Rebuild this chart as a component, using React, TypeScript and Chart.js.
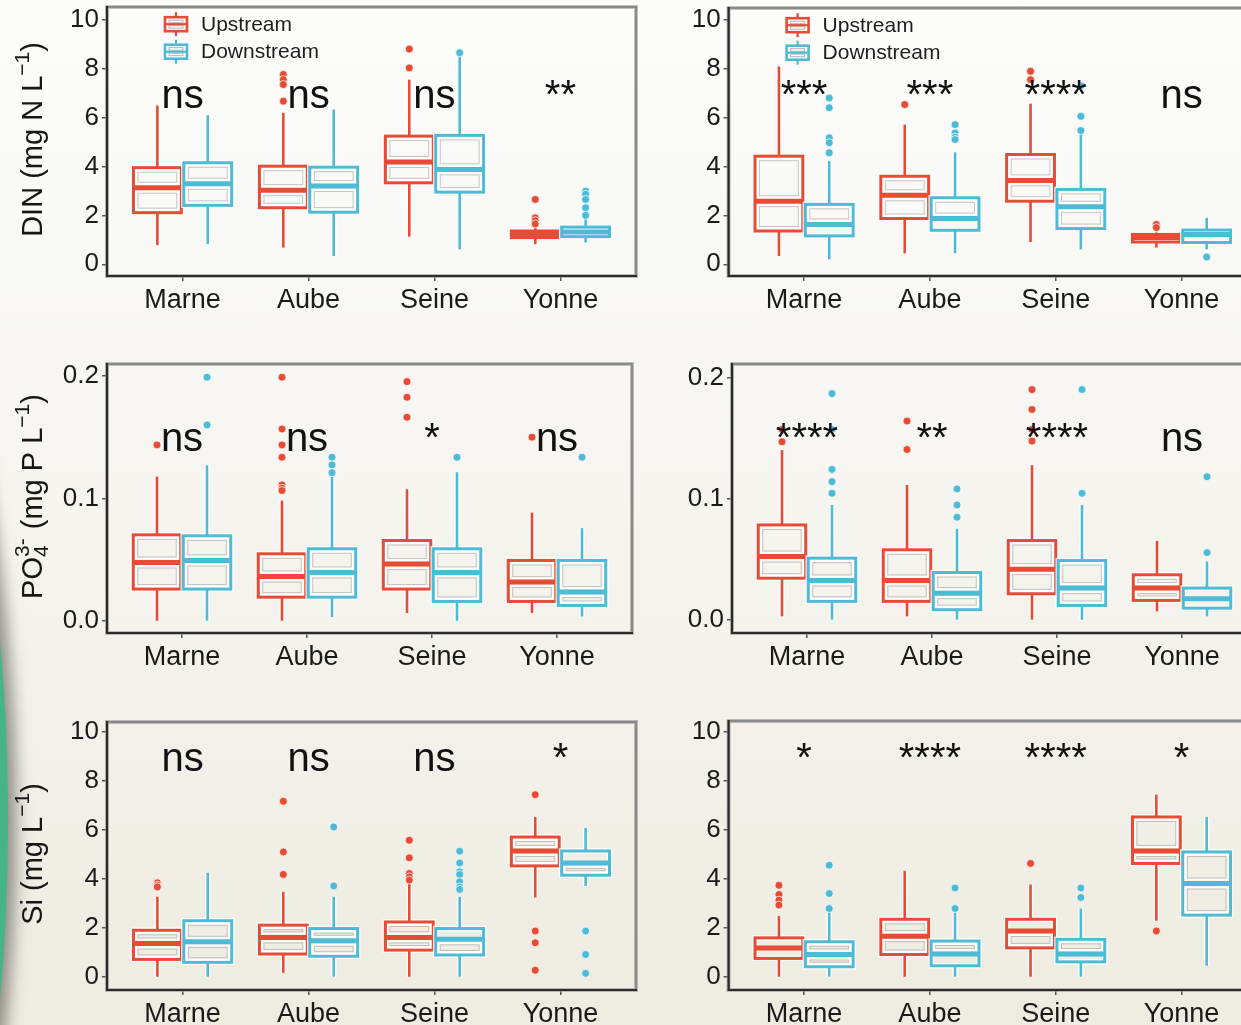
import React, { useEffect, useRef } from "react";
import { Chart, registerables } from "chart.js";
Chart.register(...registerables);

const FONT = "'Liberation Sans', Arial, Helvetica, sans-serif";

const categories = ["Marne", "Aube", "Seine", "Yonne"];
const seriesNames = ["Upstream", "Downstream"];
const upColor = "#E64B35";
const downColor = "#4DBBD5";

const dinTicks = [0, 2, 4, 6, 8, 10];
const poTicks = [0, 0.1, 0.2];
const siTicks = [0, 2, 4, 6, 8, 10];

// each entry: [lower whisker, Q1, median, Q3, upper whisker]
const dinUpA = [[0.78, 2.11, 3.13, 3.95, 6.49], [0.68, 2.31, 3.03, 4.01, 6.19], [1.13, 3.33, 4.18, 5.24, 7.55], [0.82, 1.09, 1.22, 1.36, 1.5]];
const dinDownA = [[0.82, 2.41, 3.29, 4.15, 6.1], [0.34, 2.13, 3.2, 3.97, 6.33], [0.61, 2.95, 3.88, 5.27, 8.6], [0.89, 1.13, 1.32, 1.52, 1.85]];
const dinUpAOut = [[], [7.76, 7.55, 7.35, 6.67], [8.8, 8.03], [2.65, 1.9, 1.78, 1.65]];
const dinDownAOut = [[], [], [8.65], [2.99, 2.86, 2.65, 2.31, 2.0]];
const dinSigA = ["ns", "ns", "ns", "**"];

const dinUpB = [[0.34, 1.36, 2.58, 4.42, 8.09], [0.45, 1.87, 2.82, 3.6, 5.71], [0.91, 2.58, 3.43, 4.49, 6.57], [0.68, 0.91, 1.09, 1.22, 1.3]];
const dinDownB = [[0.2, 1.16, 1.63, 2.45, 4.22], [0.45, 1.39, 1.87, 2.72, 4.58], [0.61, 1.46, 2.35, 3.06, 5.35], [0.61, 0.89, 1.22, 1.4, 1.9]];
const dinUpBOut = [[], [6.53], [7.89, 7.55], [1.63, 1.5]];
const dinDownBOut = [[6.8, 6.4, 5.17, 4.97, 4.56], [5.71, 5.37, 5.2, 5.1], [7.3, 6.05, 5.47], [0.3]];
const dinSigB = ["***", "***", "****", "ns"];

const poUpC = [[0.0, 0.0259, 0.0476, 0.0702, 0.1178], [0.0, 0.0193, 0.0362, 0.0547, 0.0982], [0.0063, 0.0259, 0.0463, 0.0656, 0.1075], [0.0063, 0.0158, 0.0316, 0.0493, 0.0884]];
const poDownC = [[0.0, 0.0259, 0.0493, 0.0694, 0.127], [0.003, 0.0193, 0.0395, 0.0588, 0.118], [0.0, 0.0158, 0.0395, 0.0588, 0.1214], [0.0035, 0.0125, 0.0234, 0.0493, 0.0757]];
const poUpCOut = [[0.1437], [0.199, 0.1567, 0.1437, 0.1336, 0.111, 0.1083, 0.1064], [0.1954, 0.1826, 0.1663], [0.15]];
const poDownCOut = [[0.199, 0.16], [0.1336, 0.1273, 0.121], [0.1336], [0.1336]];
const poSigC = ["ns", "ns", "*", "ns"];

const poUpD = [[0.0028, 0.0344, 0.0523, 0.0785, 0.1405], [0.0028, 0.0152, 0.0325, 0.0579, 0.1116], [0.0, 0.0215, 0.0419, 0.0656, 0.128], [0.0069, 0.016, 0.0262, 0.0372, 0.0653]];
const poDownD = [[0.0, 0.0152, 0.0325, 0.051, 0.095], [0.0, 0.0083, 0.022, 0.0391, 0.0752], [0.0, 0.0118, 0.0262, 0.049, 0.095], [0.0028, 0.0096, 0.0174, 0.0262, 0.0482]];
const poUpDOut = [[0.1576, 0.1474], [0.1645, 0.141], [0.1906, 0.1741, 0.1576, 0.148], []];
const poDownDOut = [[0.1873, 0.1576, 0.1245, 0.1143, 0.1047], [0.1083, 0.095, 0.0849], [0.1906, 0.1047], [0.1185, 0.0556]];
const poSigD = ["****", "**", "****", "ns"];

const siUpE = [[0, 0.71, 1.36, 1.9, 3.27], [0.16, 0.93, 1.61, 2.11, 3.47], [0, 1.09, 1.61, 2.24, 3.81], [3.24, 4.53, 5.14, 5.71, 6.53]];
const siDownE = [[0, 0.59, 1.43, 2.29, 4.25], [0, 0.84, 1.47, 1.97, 3.27], [0, 0.89, 1.53, 1.97, 3.27], [3.71, 4.15, 4.65, 5.14, 6.08]];
const siUpEOut = [[3.84, 3.74, 3.67], [7.17, 5.1, 4.18], [5.58, 4.86, 4.22, 4.08, 3.95], [7.44, 1.87, 1.39, 0.27]];
const siDownEOut = [[], [6.12, 3.71], [5.13, 4.65, 4.29, 4.18, 3.88, 3.67, 3.57], [1.87, 0.91, 0.14]];
const siSigE = ["ns", "ns", "ns", "*"];

const siUpF = [[0, 0.75, 1.18, 1.59, 2.48], [0, 0.91, 1.66, 2.35, 4.33], [0, 1.18, 1.87, 2.35, 3.77], [2.29, 4.63, 5.14, 6.53, 7.44]];
const siDownF = [[0, 0.41, 0.91, 1.43, 2.63], [0, 0.45, 0.93, 1.46, 2.63], [0, 0.61, 0.93, 1.53, 2.79], [0.45, 2.52, 3.81, 5.1, 6.53]];
const siUpFOut = [[3.74, 3.36, 3.13, 2.93], [], [4.63], [1.87]];
const siDownFOut = [[4.56, 3.4, 2.79], [3.63, 2.79], [3.63, 3.24], []];
const siSigF = ["*", "****", "****", "*"];

const dinTitle = [{ t: "DIN (mg N L" }, { t: "\u22121", sup: true }, { t: ")" }];
const poTitle = [{ t: "PO" }, { stackSup: "3-", stackSub: "4" }, { t: " (mg P L" }, { t: "\u22121", sup: true }, { t: ")" }];
const siTitle = [{ t: "Si (mg L" }, { t: "\u22121", sup: true }, { t: ")" }];

const PAD_TOP = 26;
const PAD_RIGHT = 16;
const XAXIS_H = 52;
const BOX_HALF = 0.19;
const DODGE = 0.2;

type Cfg = any;

const panels: Cfg[] = [
  { id: "A", area: { L: 107, T: 7.3, R: 636, B: 276.7 }, x0: 0, yMin: -0.48, yMax: 10.52, ticks: dinTicks, dec: 0, up: dinUpA, down: dinDownA, upOut: dinUpAOut, downOut: dinDownAOut, sig: dinSigA, sigY: 6.41, legend: true, title: dinTitle },
  { id: "B", area: { L: 728.6, T: 8.3, R: 1256.5, B: 276.7 }, x0: 628, yMin: -0.48, yMax: 10.48, ticks: dinTicks, dec: 0, up: dinUpB, down: dinDownB, upOut: dinUpBOut, downOut: dinDownBOut, sig: dinSigB, sigY: 6.41, legend: true },
  { id: "C", area: { L: 107, T: 364, R: 632, B: 633.3 }, x0: 0, yMin: -0.01, yMax: 0.2098, ticks: poTicks, dec: 1, up: poUpC, down: poDownC, upOut: poUpCOut, downOut: poDownCOut, sig: poSigC, sigY: 0.139, title: poTitle },
  { id: "D", area: { L: 732, T: 364, R: 1257, B: 633.3 }, x0: 632, yMin: -0.011, yMax: 0.2118, ticks: poTicks, dec: 1, up: poUpD, down: poDownD, upOut: poUpDOut, downOut: poDownDOut, sig: poSigD, sigY: 0.14 },
  { id: "E", area: { L: 107, T: 721.7, R: 636, B: 990 }, x0: 0, yMin: -0.54, yMax: 10.41, ticks: siTicks, dec: 0, up: siUpE, down: siDownE, upOut: siUpEOut, downOut: siDownEOut, sig: siSigE, sigY: 8.4, title: siTitle },
  { id: "F", area: { L: 728.6, T: 720.7, R: 1256.5, B: 990 }, x0: 628, yMin: -0.54, yMax: 10.45, ticks: siTicks, dec: 0, up: siUpF, down: siDownF, upOut: siUpFOut, downOut: siDownFOut, sig: siSigF, sigY: 8.4 },
];

function line(ctx: CanvasRenderingContext2D, x1: number, y1: number, x2: number, y2: number) {
  ctx.beginPath();
  ctx.moveTo(x1, y1);
  ctx.lineTo(x2, y2);
  ctx.stroke();
}

function drawBox(ctx: CanvasRenderingContext2D, x1: number, x2: number, yLo: number, yQ1: number, yMd: number, yQ3: number, yHi: number, color: string) {
  const xc = (x1 + x2) / 2;
  ctx.save();
  ctx.lineCap = "butt";
  ctx.strokeStyle = "rgba(255,255,255,0.85)";
  ctx.lineWidth = 5.5;
  line(ctx, xc, yHi, xc, yQ3);
  line(ctx, xc, yQ1, xc, yLo);
  ctx.strokeRect(x1, yQ3, x2 - x1, yQ1 - yQ3);
  ctx.strokeStyle = color;
  ctx.lineWidth = 2.6;
  line(ctx, xc, yHi, xc, yQ3);
  line(ctx, xc, yQ1, xc, yLo);
  ctx.lineWidth = 3;
  ctx.strokeRect(x1, yQ3, x2 - x1, yQ1 - yQ3);
  const inset = 4.5;
  const inner = (ya: number, yb: number) => {
    if (yb - ya > 2 && x2 - x1 > 2 * inset + 2) {
      ctx.strokeStyle = "rgba(255,255,255,0.9)";
      ctx.lineWidth = 2;
      ctx.strokeRect(x1 + inset - 1.5, ya - 1.5, x2 - x1 - 2 * inset + 3, yb - ya + 3);
      ctx.strokeStyle = "rgba(130,130,130,0.45)";
      ctx.lineWidth = 1;
      ctx.strokeRect(x1 + inset, ya, x2 - x1 - 2 * inset, yb - ya);
    }
  };
  inner(yQ3 + inset, yMd - inset - 1);
  inner(yMd + inset + 1, yQ1 - inset);
  ctx.strokeStyle = color;
  ctx.lineWidth = 5;
  line(ctx, x1, yMd, x2, yMd);
  ctx.restore();
}

function drawTitle(ctx: CanvasRenderingContext2D, parts: any[], xBase: number, cy: number, size: number) {
  const big = `${size}px ${FONT}`;
  const small = `${Math.round(size * 0.74)}px ${FONT}`;
  const widths = parts.map((p) => {
    if (p.stackSup) {
      ctx.font = small;
      return Math.max(ctx.measureText(p.stackSup).width, ctx.measureText(p.stackSub).width) + 1;
    }
    ctx.font = p.sup ? small : big;
    return ctx.measureText(p.t).width;
  });
  const total = widths.reduce((a, b) => a + b, 0);
  ctx.save();
  ctx.translate(xBase, cy);
  ctx.rotate(-Math.PI / 2);
  ctx.fillStyle = "#161616";
  ctx.textBaseline = "alphabetic";
  ctx.textAlign = "left";
  let x = -total / 2;
  parts.forEach((p, i) => {
    if (p.stackSup) {
      ctx.font = small;
      ctx.fillText(p.stackSup, x, -size * 0.45);
      ctx.fillText(p.stackSub, x, size * 0.22);
    } else if (p.sup) {
      ctx.font = small;
      ctx.fillText(p.t, x, -size * 0.45);
    } else {
      ctx.font = big;
      ctx.fillText(p.t, x, 0);
    }
    x += widths[i];
  });
  ctx.restore();
}

function makePlugin(cfg: Cfg) {
  return {
    id: "boxes" + cfg.id,
    beforeDatasetsDraw(chart: any) {
      const ctx: CanvasRenderingContext2D = chart.ctx;
      const xs = chart.scales.x;
      const ys = chart.scales.y;
      [cfg.up, cfg.down].forEach((stats: number[][], k: number) => {
        const color = k === 0 ? upColor : downColor;
        const off = k === 0 ? -DODGE : DODGE;
        stats.forEach((s, i) => {
          const cx = i + 1 + off;
          drawBox(
            ctx,
            xs.getPixelForValue(cx - BOX_HALF),
            xs.getPixelForValue(cx + BOX_HALF),
            ys.getPixelForValue(s[0]),
            ys.getPixelForValue(s[1]),
            ys.getPixelForValue(s[2]),
            ys.getPixelForValue(s[3]),
            ys.getPixelForValue(s[4]),
            color
          );
        });
      });
    },
    afterDraw(chart: any) {
      const ctx: CanvasRenderingContext2D = chart.ctx;
      const a = chart.chartArea;
      const xs = chart.scales.x;
      const ys = chart.scales.y;
      ctx.save();
      // frame
      ctx.strokeStyle = "rgba(150,150,150,0.6)";
      ctx.lineWidth = 4;
      ctx.strokeRect(a.left, a.top, a.right - a.left, a.bottom - a.top);
      ctx.strokeStyle = "#7d7d7d";
      ctx.lineWidth = 1.6;
      ctx.strokeRect(a.left, a.top, a.right - a.left, a.bottom - a.top);
      ctx.strokeStyle = "#2b2b2b";
      ctx.lineWidth = 2.2;
      ctx.beginPath();
      ctx.moveTo(a.left, a.top - 1);
      ctx.lineTo(a.left, a.bottom);
      ctx.lineTo(a.right + 1, a.bottom);
      ctx.stroke();
      // significance labels
      ctx.fillStyle = "#111";
      ctx.font = `40px ${FONT}`;
      ctx.textAlign = "center";
      ctx.textBaseline = "alphabetic";
      cfg.sig.forEach((s: string, i: number) => {
        ctx.fillText(s, xs.getPixelForValue(i + 1), ys.getPixelForValue(cfg.sigY));
      });
      // legend
      if (cfg.legend) {
        seriesNames.forEach((name, k) => {
          const color = k === 0 ? upColor : downColor;
          const cx = a.left + 69;
          const cy = a.top + 17.2 + 27.5 * k;
          ctx.fillStyle = "rgba(255,255,255,0.9)";
          ctx.fillRect(cx - 11, cy - 7, 22, 14);
          ctx.strokeStyle = color;
          ctx.lineWidth = 2.2;
          line(ctx, cx, cy - 12, cx, cy - 7);
          line(ctx, cx, cy + 7, cx, cy + 12);
          ctx.lineWidth = 2.6;
          ctx.strokeRect(cx - 11, cy - 7, 22, 14);
          ctx.strokeStyle = "rgba(130,130,130,0.6)";
          ctx.lineWidth = 1;
          ctx.strokeRect(cx - 7, cy - 4, 14, 2.5);
          ctx.strokeRect(cx - 7, cy + 1.5, 14, 2.5);
          ctx.strokeStyle = color;
          ctx.lineWidth = 2.2;
          line(ctx, cx - 11, cy, cx + 11, cy);
          ctx.fillStyle = "#1e1e1e";
          ctx.font = `21px ${FONT}`;
          ctx.textAlign = "left";
          ctx.textBaseline = "middle";
          ctx.fillText(name, a.left + 94, cy + 1);
        });
      }
      if (cfg.title) {
        drawTitle(ctx, cfg.title, 42 - cfg.x0, (a.top + a.bottom) / 2 - 2, 29);
      }
      ctx.restore();
    },
  };
}

function Panel({ cfg }: { cfg: Cfg }) {
  const ref = useRef<HTMLCanvasElement>(null);
  const { L, T, R, B } = cfg.area;
  const top = T - PAD_TOP;
  const width = Math.round(R + PAD_RIGHT - cfg.x0);
  const height = Math.round(B + XAXIS_H - top);

  useEffect(() => {
    if (!ref.current) return;
    const mk = (stats: number[][], off: number) =>
      stats.flatMap((vals, i) => vals.map((v) => ({ x: i + 1 + off, y: v })));
    const yFont = { family: FONT, size: 26 };
    const xFont = { family: FONT, size: 27 };
    const gridOpts = { display: true, drawOnChartArea: false, drawTicks: true, tickLength: 5, color: "#555", lineWidth: 1.5 };
    const chart = new Chart(ref.current, {
      type: "scatter",
      data: {
        datasets: [
          { label: seriesNames[0], data: mk(cfg.upOut, -DODGE), pointRadius: 4, pointBackgroundColor: upColor, pointBorderColor: "rgba(255,255,255,0.75)", pointBorderWidth: 1 },
          { label: seriesNames[1], data: mk(cfg.downOut, DODGE), pointRadius: 4, pointBackgroundColor: downColor, pointBorderColor: "rgba(255,255,255,0.75)", pointBorderWidth: 1 },
        ],
      },
      options: {
        responsive: false,
        animation: false,
        events: [],
        layout: { padding: { top: PAD_TOP, right: PAD_RIGHT, bottom: 0, left: 0 } },
        plugins: { legend: { display: false }, tooltip: { enabled: false } },
        scales: {
          x: {
            type: "linear",
            min: 0.4,
            max: 4.6,
            afterBuildTicks: (s: any) => {
              s.ticks = categories.map((_, i) => ({ value: i + 1 }));
            },
            afterFit: (s: any) => {
              s.height = XAXIS_H;
            },
            ticks: {
              callback: (v: any) => categories[Math.round(Number(v)) - 1] ?? "",
              font: xFont,
              color: "#1a1a1a",
              padding: 3,
              maxRotation: 0,
              autoSkip: false,
            },
            grid: gridOpts,
            border: { display: false },
          },
          y: {
            type: "linear",
            min: cfg.yMin,
            max: cfg.yMax,
            afterBuildTicks: (s: any) => {
              s.ticks = cfg.ticks.map((v: number) => ({ value: v }));
            },
            afterFit: (s: any) => {
              s.width = L - cfg.x0;
            },
            ticks: {
              callback: (v: any) => Number(v).toFixed(cfg.dec),
              font: yFont,
              color: "#1a1a1a",
              padding: 3,
              autoSkip: false,
            },
            grid: gridOpts,
            border: { display: false },
          },
        },
      } as any,
      plugins: [makePlugin(cfg)],
    });
    return () => chart.destroy();
  }, [cfg]);

  return (
    <canvas
      ref={ref}
      width={width}
      height={height}
      style={{ position: "absolute", left: cfg.x0, top, width, height }}
    />
  );
}

export default function App() {
  const R = 2029;
  return (
    <div
      style={{
        position: "absolute",
        left: 0,
        top: 0,
        width: 1241,
        height: 1025,
        overflow: "hidden",
        background: "linear-gradient(180deg, #fcfcfb 0%, #f6f5f1 45%, #eeebe0 100%)",
      }}
    >
      <div
        style={{
          position: "absolute",
          left: 8 - 2 * R,
          top: 820 - R,
          width: 2 * R,
          height: 2 * R,
          borderRadius: "50%",
          background: "#45b486",
          boxShadow: "0 0 16px 8px rgba(60,60,55,0.55)",
        }}
      />
      {panels.map((p) => (
        <Panel key={p.id} cfg={p} />
      ))}
    </div>
  );
}
